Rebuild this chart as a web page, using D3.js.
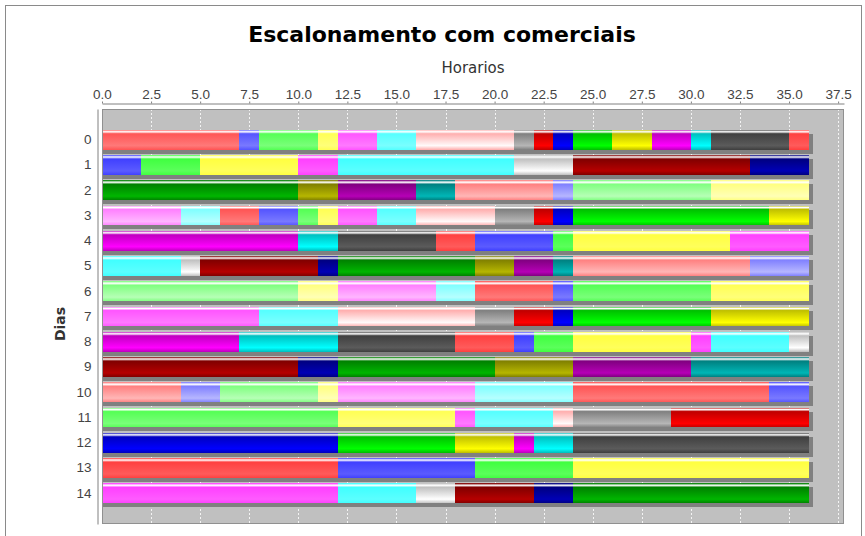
<!DOCTYPE html>
<html>
<head>
<meta charset="utf-8">
<script src="https://cdn.jsdelivr.net/npm/d3@7"></script>
<style>
	body { margin: 0; background: #fff; }
	svg { display: block; font-family: "DejaVu Sans", sans-serif; }
	.axis text { fill: #444; font-size: 13.5px; }
	.axis path, .axis line { stroke: #808080; }
</style>
</head>
<body>
<div id="chart"></div>
<script>
// rows of the schedule (Dias) and the length of each block, in order
var days = ["0", "1", "2", "3", "4", "5", "6", "7", "8", "9", "10", "11", "12", "13", "14"];

var blocks0 = [7, 1, 3, 1, 2, 2, 5, 1, 1, 1, 2, 2, 2, 1, 4, 1];
var blocks1 = [2, 3, 5, 2, 9, 3, 9, 3];
var blocks2 = [10, 2, 4, 2, 5, 1, 7, 5];
var blocks3 = [4, 2, 2, 2, 1, 1, 2, 2, 4, 2, 1, 1, 10, 2];
var blocks4 = [10, 2, 5, 2, 4, 1, 8, 4];
var blocks5 = [4, 1, 6, 1, 7, 2, 2, 1, 9, 3];
var blocks6 = [10, 2, 5, 2, 4, 1, 7, 5];
var blocks7 = [8, 4, 7, 2, 2, 1, 7, 5];
var blocks8 = [7, 5, 6, 3, 1, 2, 6, 1, 4, 1];
var blocks9 = [10, 2, 8, 4, 6, 6];
var blocks10 = [4, 2, 5, 1, 7, 5, 10, 2];
var blocks11 = [12, 6, 1, 4, 1, 5, 7];
var blocks12 = [12, 6, 3, 1, 2, 12];
var blocks13 = [12, 7, 5, 12];
var blocks14 = [12, 4, 2, 4, 2, 12];

var rows = [blocks0, blocks1, blocks2, blocks3, blocks4, blocks5, blocks6, blocks7,
	blocks8, blocks9, blocks10, blocks11, blocks12, blocks13, blocks14];

var ticks = [0, 2.5, 5, 7.5, 10, 12.5, 15, 17.5, 20, 22.5, 25, 27.5, 30, 32.5, 35, 37.5];

// series colours, used one after the other
var palette = [
	"#ff5555", "#5555ff", "#55ff55", "#ffff55", "#ff55ff", "#55ffff", "#ffafaf", "#808080",
	"#c00000", "#0000c0", "#00c000", "#c0c000", "#c000c0", "#00c0c0", "#404040",
	"#ff4040", "#4040ff", "#40ff40", "#ffff40", "#ff40ff", "#40ffff", "#c0c0c0",
	"#800000", "#000080", "#008000", "#808000", "#800080", "#008080",
	"#ff8080", "#8080ff", "#80ff80", "#ffff80", "#ff80ff", "#80ffff"
];

var W = 865, H = 536;
var plot = {left: 102, right: 844, top: 109, bottom: 524};

// java.awt.Color.brighter()
function brighter(hex) {
	var c = d3.rgb(hex);
	var f = function(v) {
		if (v > 0 && v < 3) v = 3;
		return Math.min(255, Math.floor(v / 0.7));
	};
	if (c.r == 0 && c.g == 0 && c.b == 0) return d3.rgb(3, 3, 3).formatHex();
	return d3.rgb(f(c.r), f(c.g), f(c.b)).formatHex();
}

var svg = d3.select("#chart").append("svg")
	.attr("width", W)
	.attr("height", H);

var defs = svg.append("defs");
palette.forEach(function(col, i) {
	var g = defs.append("linearGradient")
		.attr("id", "g" + i)
		.attr("x1", 0).attr("y1", 0).attr("x2", 0).attr("y2", 1);
	[[0, col], [0.1, "#ffffff"], [0.2, col], [0.8, brighter(col)], [1, col]].forEach(function(s) {
		g.append("stop").attr("offset", s[0]).attr("stop-color", s[1]);
	});
});

// chart frame
svg.append("rect")
	.attr("x", 5.5).attr("y", 5.5)
	.attr("width", 856).attr("height", 560)
	.attr("fill", "none")
	.attr("stroke", "#8a8a8a");

svg.append("text")
	.attr("x", 442).attr("y", 42)
	.attr("text-anchor", "middle")
	.style("font-size", "22px")
	.style("font-weight", "bold")
	.attr("fill", "#000")
	.text("Escalonamento com comerciais");

var x = d3.scaleLinear()
	.domain([0, 36 * 1.05])
	.range([plot.left, plot.right]);

// category axis margins (lower/upper 5%, 20% between bars)
var n = days.length,
	span = plot.bottom - plot.top,
	barH = span * 0.9 * 0.8 / n,
	gap = span * 0.9 * 0.2 / (n - 1),
	step = barH + gap;

var y = d3.scaleBand()
	.domain(days)
	.range([plot.top, plot.bottom])
	.paddingInner(gap / step)
	.paddingOuter(span * 0.05 / step);

svg.append("rect")
	.attr("x", plot.left).attr("y", plot.top)
	.attr("width", plot.right - plot.left)
	.attr("height", plot.bottom - plot.top)
	.attr("fill", "#c0c0c0");

svg.append("g").selectAll("line")
	.data(ticks)
	.enter()
	.append("line")
	.attr("x1", function(d) { return Math.round(x(d)) + 0.5; })
	.attr("x2", function(d) { return Math.round(x(d)) + 0.5; })
	.attr("y1", plot.top)
	.attr("y2", plot.bottom)
	.attr("stroke", "#f4f4f4")
	.attr("stroke-width", 1)
	.attr("stroke-dasharray", "2,2");

// flatten rows into stacked segments, colour index runs over all rows
var segs = [];
var k = 0;
rows.forEach(function(r, i) {
	var acc = 0;
	r.forEach(function(v) {
		segs.push({day: days[i], x0: acc, x1: acc + v, c: k % palette.length});
		acc += v;
		k++;
	});
});

var bars = svg.append("g").attr("shape-rendering", "crispEdges");

bars.selectAll("rect.shadow")
	.data(segs)
	.enter()
	.append("rect")
	.attr("class", "shadow")
	.attr("x", function(d) { return x(d.x0); })
	.attr("y", function(d) { return y(d.day) + 4; })
	.attr("width", function(d) { return x(d.x1) - x(d.x0) + 4; })
	.attr("height", y.bandwidth())
	.attr("fill", "#808080");

bars.selectAll("rect.bar")
	.data(segs)
	.enter()
	.append("rect")
	.attr("class", "bar")
	.attr("x", function(d) { return x(d.x0); })
	.attr("y", function(d) { return y(d.day); })
	.attr("width", function(d) { return x(d.x1) - x(d.x0); })
	.attr("height", y.bandwidth())
	.attr("fill", function(d) { return "url(#g" + d.c + ")"; });

svg.append("rect")
	.attr("x", plot.left + 0.5).attr("y", plot.top + 0.5)
	.attr("width", plot.right - plot.left - 1)
	.attr("height", plot.bottom - plot.top - 1)
	.attr("fill", "none")
	.attr("stroke", "#909090");

var xAxis = d3.axisTop(x)
	.tickValues(ticks)
	.tickFormat(d3.format(".1f"))
	.tickSize(2)
	.tickSizeOuter(0)
	.tickPadding(3);

svg.append("g")
	.attr("class", "axis")
	.attr("transform", "translate(0,103.5)")
	.call(xAxis);

var yAxis = d3.axisLeft(y)
	.tickSize(0)
	.tickSizeOuter(0)
	.tickPadding(6);

svg.append("g")
	.attr("class", "axis")
	.attr("transform", "translate(97.5,0)")
	.call(yAxis);

svg.append("text")
	.attr("x", (plot.left + plot.right) / 2)
	.attr("y", 73)
	.attr("text-anchor", "middle")
	.style("font-size", "15px")
	.attr("fill", "#333")
	.text("Horarios");

svg.append("text")
	.attr("transform", "translate(65,324) rotate(-90)")
	.attr("text-anchor", "middle")
	.style("font-size", "14px")
	.style("font-weight", "bold")
	.attr("fill", "#333")
	.text("Dias");
</script>
</body>
</html>
